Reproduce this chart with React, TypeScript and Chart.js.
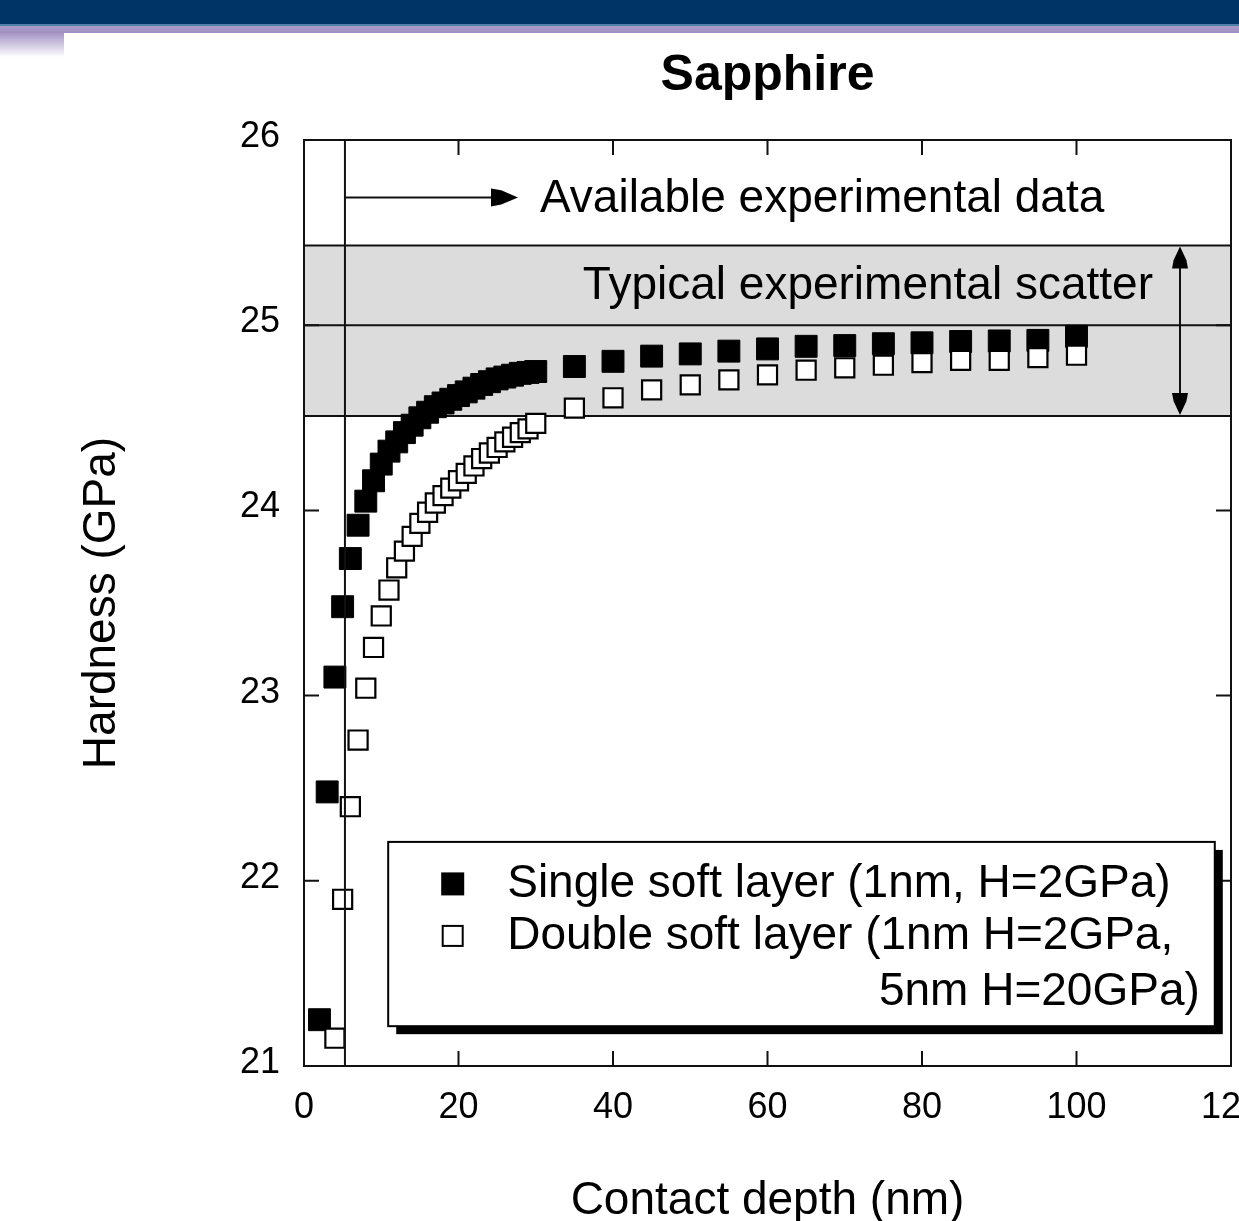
import { useEffect, useRef } from "react";
import { Chart, registerables } from "chart.js";

Chart.register(...registerables);

// ---------------- data ----------------
const singleDepth = [
  2, 3, 4, 5, 6, 7, 8, 9, 10, 11, 12, 13, 14, 15, 16, 17, 18, 19, 20, 21, 22, 23, 24, 25, 26, 27, 28, 29, 30,
  35, 40, 45, 50, 55, 60, 65, 70, 75, 80, 85, 90, 95, 100,
];
const singleHardness = [
  21.25, 22.48, 23.1, 23.48, 23.74, 23.92, 24.05, 24.16, 24.25, 24.32, 24.37, 24.42, 24.46, 24.5, 24.53, 24.56,
  24.58, 24.6, 24.62, 24.64, 24.66, 24.68, 24.695, 24.71, 24.72, 24.73, 24.74, 24.745, 24.75,
  24.777, 24.805, 24.833, 24.845, 24.86, 24.872, 24.886, 24.89, 24.9, 24.905, 24.912, 24.915, 24.918, 24.94,
];
const doubleDepth = [
  4, 5, 6, 7, 8, 9, 10, 11, 12, 13, 14, 15, 16, 17, 18, 19, 20, 21, 22, 23, 24, 25, 26, 27, 28, 29, 30,
  35, 40, 45, 50, 55, 60, 65, 70, 75, 80, 85, 90, 95, 100,
];
const doubleHardness = [
  21.15, 21.9, 22.4, 22.76, 23.04, 23.26, 23.43, 23.57, 23.69, 23.78, 23.86, 23.93, 23.99, 24.04, 24.08, 24.12,
  24.16, 24.2, 24.24, 24.28, 24.31, 24.34, 24.37, 24.395, 24.42, 24.44, 24.47,
  24.552, 24.608, 24.651, 24.678, 24.705, 24.732, 24.757, 24.77, 24.784, 24.798, 24.81, 24.81, 24.825, 24.838,
];
const xTicks = [0, 20, 40, 60, 80, 100, 120];
const yTicks = [21, 22, 23, 24, 25, 26];

// ---------------- texts ----------------
const chartTitle = "Sapphire";
const xAxisTitle = "Contact depth (nm)";
const yAxisTitle = "Hardness (GPa)";
const singleLabel = "Single soft layer (1nm, H=2GPa)";
const doubleLabel1 = "Double soft layer (1nm H=2GPa,";
const doubleLabel2 = "5nm H=20GPa)";
const availableText = "Available experimental data";
const scatterText = "Typical experimental scatter";

// ---------------- annotations (data units) ----------------
const scatterBand = [24.51, 25.43];
const referenceHardness = 25;
const dataStartDepth = 5.3;
const availableArrowY = 25.69;
const availableArrowEnd = 27.7;
const availableTextDepth = 30.55;
const scatterTextDepthRight = 109.9;
const scatterTextHardness = 25.21;
const scatterArrowDepth = 113.4;
const legendDepth = [10.9, 117.9];
const legendHardness = [22.21, 21.215];

const FONT = '"Liberation Sans", Arial, Helvetica, sans-serif';

function arrowHead(ctx: any, tx: number, ty: number, dx: number, dy: number, L: number, w: number) {
  const px = -dy;
  const py = dx;
  const l2 = L * 0.62;
  const w2 = w * 0.8;
  ctx.beginPath();
  ctx.moveTo(tx, ty);
  ctx.lineTo(tx - dx * l2 + px * w2, ty - dy * l2 + py * w2);
  ctx.lineTo(tx - dx * L + px * w, ty - dy * L + py * w);
  ctx.lineTo(tx - dx * L - px * w, ty - dy * L - py * w);
  ctx.lineTo(tx - dx * l2 - px * w2, ty - dy * l2 - py * w2);
  ctx.closePath();
  ctx.fill();
}

const decorPlugin = {
  id: "decor",
  beforeDatasetsDraw(chart: any) {
    const { ctx, chartArea: a } = chart;
    const x = chart.scales.x;
    const y = chart.scales.y;
    ctx.save();
    // scatter band
    const bt = y.getPixelForValue(scatterBand[1]);
    const bb = y.getPixelForValue(scatterBand[0]);
    ctx.fillStyle = "#dcdcdc";
    ctx.fillRect(a.left, bt, a.right - a.left, bb - bt);
    ctx.strokeStyle = "#111";
    ctx.lineWidth = 2;
    const hline = (py: number) => {
      ctx.beginPath();
      ctx.moveTo(a.left, py);
      ctx.lineTo(a.right, py);
      ctx.stroke();
    };
    hline(bt);
    hline(bb);
    hline(y.getPixelForValue(referenceHardness));

    // inward ticks on all sides
    const tl = 15;
    ctx.beginPath();
    xTicks.forEach((v) => {
      const px = x.getPixelForValue(v);
      ctx.moveTo(px, a.bottom);
      ctx.lineTo(px, a.bottom - tl);
      ctx.moveTo(px, a.top);
      ctx.lineTo(px, a.top + tl);
    });
    yTicks.forEach((v) => {
      const py = y.getPixelForValue(v);
      ctx.moveTo(a.left, py);
      ctx.lineTo(a.left + tl, py);
      ctx.moveTo(a.right, py);
      ctx.lineTo(a.right - tl, py);
    });
    ctx.stroke();

    // available data arrow
    const ay = y.getPixelForValue(availableArrowY);
    const ax0 = x.getPixelForValue(dataStartDepth);
    const ax1 = x.getPixelForValue(availableArrowEnd);
    ctx.beginPath();
    ctx.moveTo(ax0, ay);
    ctx.lineTo(ax1 - 20, ay);
    ctx.stroke();
    ctx.fillStyle = "#000";
    arrowHead(ctx, ax1, ay, 1, 0, 27, 9);

    ctx.font = `46px ${FONT}`;
    ctx.textBaseline = "middle";
    ctx.textAlign = "left";
    ctx.fillText(availableText, x.getPixelForValue(availableTextDepth), ay + 2);
    ctx.restore();
  },
  afterDatasetsDraw(chart: any) {
    const { ctx, chartArea: a } = chart;
    const x = chart.scales.x;
    const y = chart.scales.y;
    ctx.save();
    ctx.strokeStyle = "#111";
    ctx.lineWidth = 2;
    // vertical line for available data start
    const vx = x.getPixelForValue(dataStartDepth);
    ctx.beginPath();
    ctx.moveTo(vx, a.top);
    ctx.lineTo(vx, a.bottom);
    ctx.stroke();
    // frame
    ctx.strokeRect(a.left, a.top, a.right - a.left, a.bottom - a.top);

    // scatter double arrow
    const sx = x.getPixelForValue(scatterArrowDepth);
    const bt = y.getPixelForValue(scatterBand[1]);
    const bb = y.getPixelForValue(scatterBand[0]);
    ctx.beginPath();
    ctx.moveTo(sx, bt + 10);
    ctx.lineTo(sx, bb - 10);
    ctx.stroke();
    ctx.fillStyle = "#000";
    arrowHead(ctx, sx, bt + 1, 0, -1, 22, 8);
    arrowHead(ctx, sx, bb - 1, 0, 1, 22, 8);

    ctx.font = `46px ${FONT}`;
    ctx.textBaseline = "middle";
    ctx.textAlign = "right";
    ctx.fillText(scatterText, x.getPixelForValue(scatterTextDepthRight), y.getPixelForValue(scatterTextHardness));

    // legend box
    const lx1 = x.getPixelForValue(legendDepth[0]);
    const lx2 = x.getPixelForValue(legendDepth[1]);
    const ly1 = y.getPixelForValue(legendHardness[0]);
    const ly2 = y.getPixelForValue(legendHardness[1]);
    const w = lx2 - lx1;
    const h = ly2 - ly1;
    ctx.fillStyle = "#000";
    ctx.fillRect(lx1 + 8, ly1 + 8, w, h);
    ctx.fillStyle = "#fff";
    ctx.fillRect(lx1, ly1, w, h);
    ctx.strokeStyle = "#000";
    ctx.lineWidth = 2;
    ctx.strokeRect(lx1, ly1, w, h);

    const mx = lx1 + 64.5;
    const r1 = ly1 + 42;
    const r2 = ly1 + 94;
    const r3 = ly1 + 150;
    ctx.fillStyle = "#000";
    ctx.fillRect(mx - 11.5, r1 - 11.5, 23, 23);
    ctx.fillStyle = "#fff";
    ctx.fillRect(mx - 10, r2 - 10, 20, 20);
    ctx.strokeRect(mx - 10, r2 - 10, 20, 20);

    ctx.fillStyle = "#000";
    ctx.textAlign = "left";
    ctx.fillText(singleLabel, lx1 + 119, r1);
    ctx.fillText(doubleLabel1, lx1 + 119, r2);
    ctx.textAlign = "right";
    ctx.fillText(doubleLabel2, lx2 - 15, r3);

    // chart title
    ctx.font = `bold 50px ${FONT}`;
    ctx.textAlign = "center";
    ctx.fillText(chartTitle, (a.left + a.right) / 2, 76);
    ctx.restore();
  },
};

export default function App() {
  const ref = useRef<HTMLCanvasElement>(null);
  useEffect(() => {
    const chart = new Chart(ref.current as HTMLCanvasElement, {
      type: "scatter",
      data: {
        datasets: [
          {
            label: singleLabel,
            data: singleDepth.map((d, i) => ({ x: d, y: singleHardness[i] })),
            pointStyle: "rect",
            pointRadius: 15.5,
            backgroundColor: "#000",
            borderColor: "#000",
            borderWidth: 1,
            order: 1,
          },
          {
            label: doubleLabel1 + " " + doubleLabel2,
            data: doubleDepth.map((d, i) => ({ x: d, y: doubleHardness[i] })),
            pointStyle: "rect",
            pointRadius: 13.5,
            backgroundColor: "#fff",
            borderColor: "#000",
            borderWidth: 2.2,
            order: 0,
          },
        ],
      },
      options: {
        responsive: false,
        maintainAspectRatio: false,
        animation: false,
        events: [],
        layout: { padding: { left: 0, top: 140, right: 69, bottom: 0 } },
        plugins: {
          legend: { display: false },
          tooltip: { enabled: false },
          title: { display: false },
        },
        scales: {
          x: {
            type: "linear",
            position: "bottom",
            min: 0,
            max: 120,
            afterBuildTicks: (s: any) => {
              s.ticks = xTicks.map((v) => ({ value: v }));
            },
            ticks: {
              autoSkip: false,
              maxRotation: 0,
              padding: 20,
              color: "#000",
              font: { size: 36, family: FONT },
            },
            grid: { display: false, drawTicks: false },
            border: { display: false },
            title: {
              display: true,
              text: xAxisTitle,
              color: "#000",
              font: { size: 46, family: FONT },
              padding: { top: 0, bottom: 11 },
            },
            afterFit: (s: any) => {
              s.height = 174;
            },
          },
          y: {
            type: "linear",
            position: "left",
            min: 21,
            max: 26,
            afterBuildTicks: (s: any) => {
              s.ticks = yTicks.map((v) => ({ value: v }));
            },
            ticks: {
              autoSkip: false,
              padding: 24,
              labelOffset: -3,
              color: "#000",
              font: { size: 36, family: FONT },
            },
            grid: { display: false, drawTicks: false },
            border: { display: false },
            title: {
              display: true,
              text: yAxisTitle,
              color: "#000",
              font: { size: 46, family: FONT },
              padding: { top: 75, bottom: 0 },
            },
            afterFit: (s: any) => {
              s.width = 304;
            },
          },
        },
      } as any,
      plugins: [decorPlugin],
    });
    return () => chart.destroy();
  }, []);

  return (
    <div
      style={{
        position: "absolute",
        left: 0,
        top: 0,
        width: 1239,
        height: 1221,
        overflow: "hidden",
        background: "#fff",
      }}
    >
      <div style={{ position: "absolute", left: 0, top: 0, width: "100%", height: 25, background: "#003366" }} />
      <div style={{ position: "absolute", left: 0, top: 24, width: "100%", height: 2, background: "#4f7fab" }} />
      <div
        style={{
          position: "absolute",
          left: 0,
          top: 26,
          width: "100%",
          height: 7,
          background: "linear-gradient(#ab9cca, #a18fc1)",
        }}
      />
      <div
        style={{
          position: "absolute",
          left: 0,
          top: 33,
          width: 64,
          height: 24,
          background: "linear-gradient(#a594c5, #ffffff)",
        }}
      />
      <canvas
        ref={ref}
        width={1300}
        height={1240}
        style={{ position: "absolute", left: 0, top: 0, width: 1300, height: 1240 }}
      />
    </div>
  );
}
